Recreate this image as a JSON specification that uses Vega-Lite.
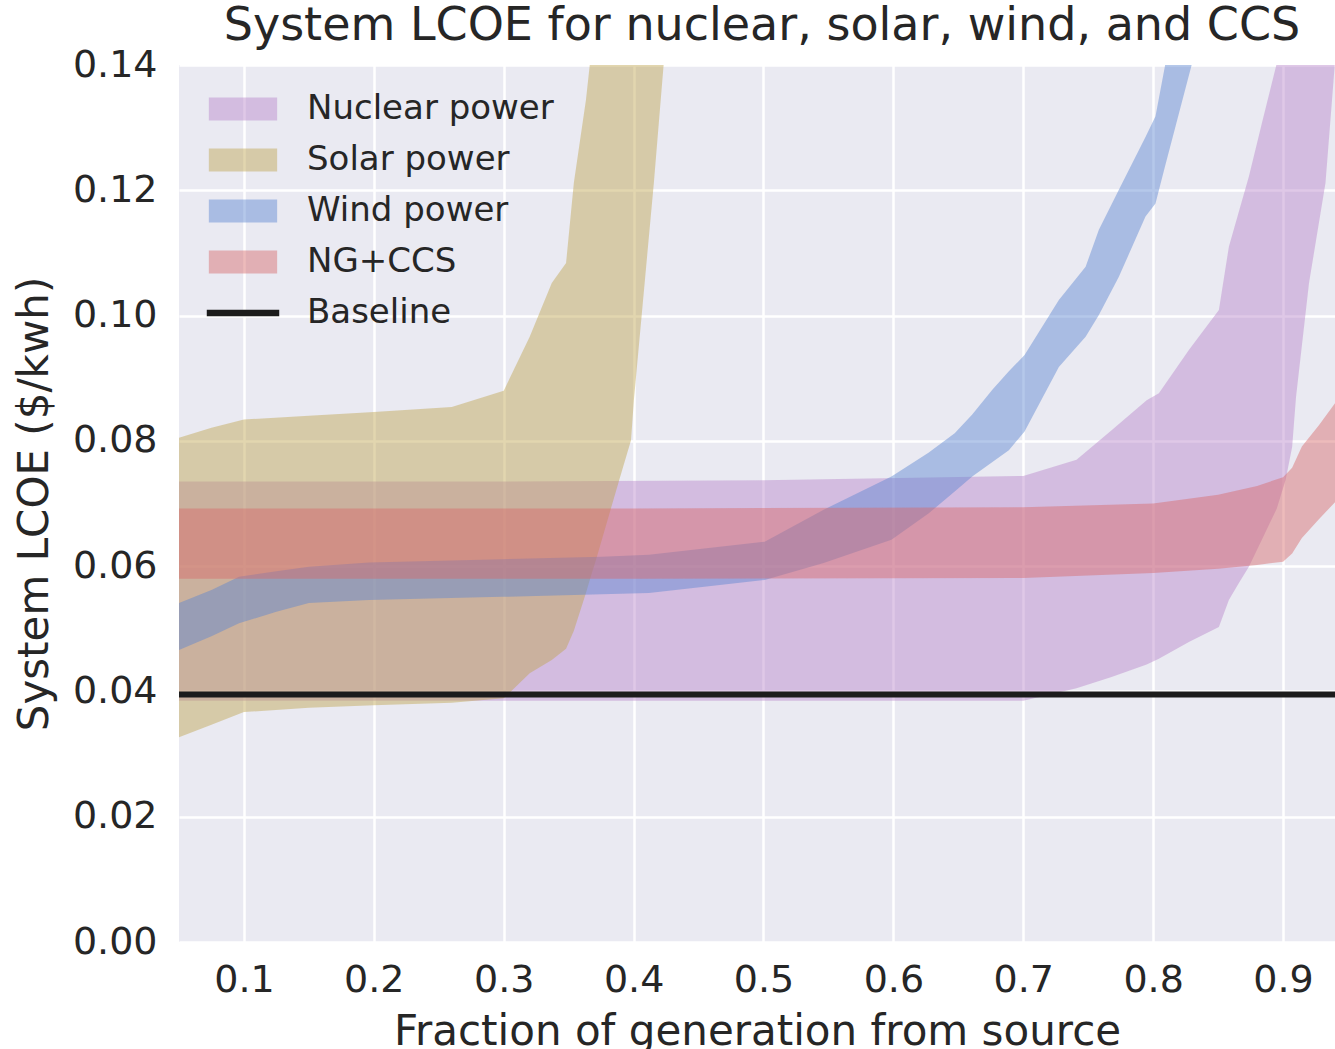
{
  "$schema": "https://vega.github.io/schema/vega-lite/v6.json",
  "width": 1156,
  "height": 877,
  "autosize": {"type": "none"},
  "padding": {"left": 179, "top": 65, "right": 0, "bottom": 107},
  "background": "white",
  "title": {
    "text": "System LCOE for nuclear, solar, wind, and CCS",
    "font": "DejaVu Sans",
    "fontSize": 46,
    "fontWeight": "normal",
    "color": "#262626",
    "anchor": "middle",
    "baseline": "alphabetic",
    "offset": -40,
    "dx": 5
  },
  "config": {
    "view": {"fill": "#EAEAF2", "stroke": null},
    "axis": {
      "domain": false,
      "ticks": false,
      "grid": true,
      "gridColor": "#ffffff",
      "gridWidth": 2.5,
      "gridOpacity": 1,
      "labelFont": "DejaVu Sans",
      "labelFontSize": 38,
      "labelColor": "#262626",
      "titleFont": "DejaVu Sans",
      "titleFontSize": 42,
      "titleFontWeight": "normal",
      "titleColor": "#262626"
    }
  },
  "datasets": {
    "nuclear": [
      {"series": "Nuclear power", "x": 0.05, "lo": 0.0385, "hi": 0.0735},
      {"series": "Nuclear power", "x": 0.30, "lo": 0.0385, "hi": 0.0735},
      {"series": "Nuclear power", "x": 0.50, "lo": 0.0385, "hi": 0.0737},
      {"series": "Nuclear power", "x": 0.70, "lo": 0.0385, "hi": 0.0744},
      {"series": "Nuclear power", "x": 0.741, "lo": 0.0405, "hi": 0.0770},
      {"series": "Nuclear power", "x": 0.768, "lo": 0.0423, "hi": 0.0817},
      {"series": "Nuclear power", "x": 0.795, "lo": 0.0443, "hi": 0.0865},
      {"series": "Nuclear power", "x": 0.8044, "lo": 0.0452, "hi": 0.0876},
      {"series": "Nuclear power", "x": 0.8275, "lo": 0.0479, "hi": 0.0945},
      {"series": "Nuclear power", "x": 0.8506, "lo": 0.0503, "hi": 0.1009},
      {"series": "Nuclear power", "x": 0.8583, "lo": 0.0546, "hi": 0.1110},
      {"series": "Nuclear power", "x": 0.866, "lo": 0.0573, "hi": 0.1166},
      {"series": "Nuclear power", "x": 0.8737, "lo": 0.0599, "hi": 0.1222},
      {"series": "Nuclear power", "x": 0.8837, "lo": 0.0642, "hi": 0.1307},
      {"series": "Nuclear power", "x": 0.8952, "lo": 0.0692, "hi": 0.1403},
      {"series": "Nuclear power", "x": 0.902, "lo": 0.0738, "hi": 0.16},
      {"series": "Nuclear power", "x": 0.907, "lo": 0.079, "hi": 0.17},
      {"series": "Nuclear power", "x": 0.910, "lo": 0.087, "hi": 0.18},
      {"series": "Nuclear power", "x": 0.920, "lo": 0.1052, "hi": 0.2},
      {"series": "Nuclear power", "x": 0.9327, "lo": 0.1212, "hi": 0.2},
      {"series": "Nuclear power", "x": 0.94, "lo": 0.1405, "hi": 0.2}
    ],
    "solar": [
      {"series": "Solar power", "x": 0.05, "lo": 0.0327, "hi": 0.0805},
      {"series": "Solar power", "x": 0.075, "lo": 0.0347, "hi": 0.0821},
      {"series": "Solar power", "x": 0.10, "lo": 0.0367, "hi": 0.0834},
      {"series": "Solar power", "x": 0.15, "lo": 0.0374, "hi": 0.0840},
      {"series": "Solar power", "x": 0.20, "lo": 0.0378, "hi": 0.0846},
      {"series": "Solar power", "x": 0.26, "lo": 0.0382, "hi": 0.0854},
      {"series": "Solar power", "x": 0.30, "lo": 0.0389, "hi": 0.0880},
      {"series": "Solar power", "x": 0.32, "lo": 0.0429, "hi": 0.0966},
      {"series": "Solar power", "x": 0.337, "lo": 0.0450, "hi": 0.1052},
      {"series": "Solar power", "x": 0.348, "lo": 0.0468, "hi": 0.1084},
      {"series": "Solar power", "x": 0.354, "lo": 0.0497, "hi": 0.1212},
      {"series": "Solar power", "x": 0.3633, "lo": 0.0557, "hi": 0.1344},
      {"series": "Solar power", "x": 0.3665, "lo": 0.0580, "hi": 0.1405},
      {"series": "Solar power", "x": 0.371, "lo": 0.0610, "hi": 0.16},
      {"series": "Solar power", "x": 0.389, "lo": 0.0738, "hi": 0.2},
      {"series": "Solar power", "x": 0.398, "lo": 0.0801, "hi": 0.2},
      {"series": "Solar power", "x": 0.4002, "lo": 0.0865, "hi": 0.2},
      {"series": "Solar power", "x": 0.4156, "lo": 0.1212, "hi": 0.2},
      {"series": "Solar power", "x": 0.4233, "lo": 0.1405, "hi": 0.2},
      {"series": "Solar power", "x": 0.43, "lo": 0.16, "hi": 0.2}
    ],
    "wind": [
      {"series": "Wind power", "x": 0.05, "lo": 0.0466, "hi": 0.0541},
      {"series": "Wind power", "x": 0.075, "lo": 0.0488, "hi": 0.0562},
      {"series": "Wind power", "x": 0.0962, "lo": 0.0509, "hi": 0.0583},
      {"series": "Wind power", "x": 0.125, "lo": 0.0527, "hi": 0.0592},
      {"series": "Wind power", "x": 0.150, "lo": 0.0541, "hi": 0.0599},
      {"series": "Wind power", "x": 0.1962, "lo": 0.0546, "hi": 0.0606},
      {"series": "Wind power", "x": 0.2986, "lo": 0.0551, "hi": 0.0611},
      {"series": "Wind power", "x": 0.3756, "lo": 0.0555, "hi": 0.0615},
      {"series": "Wind power", "x": 0.4118, "lo": 0.0557, "hi": 0.0618},
      {"series": "Wind power", "x": 0.5009, "lo": 0.0578, "hi": 0.0639},
      {"series": "Wind power", "x": 0.5463, "lo": 0.0605, "hi": 0.0690},
      {"series": "Wind power", "x": 0.5985, "lo": 0.0642, "hi": 0.0743},
      {"series": "Wind power", "x": 0.627, "lo": 0.0684, "hi": 0.0781},
      {"series": "Wind power", "x": 0.6472, "lo": 0.0719, "hi": 0.0812},
      {"series": "Wind power", "x": 0.6607, "lo": 0.0743, "hi": 0.0842},
      {"series": "Wind power", "x": 0.676, "lo": 0.0766, "hi": 0.0881},
      {"series": "Wind power", "x": 0.6889, "lo": 0.0785, "hi": 0.0911},
      {"series": "Wind power", "x": 0.701, "lo": 0.0815, "hi": 0.0937},
      {"series": "Wind power", "x": 0.7274, "lo": 0.0918, "hi": 0.1025},
      {"series": "Wind power", "x": 0.748, "lo": 0.0966, "hi": 0.1078},
      {"series": "Wind power", "x": 0.7582, "lo": 0.1001, "hi": 0.1137},
      {"series": "Wind power", "x": 0.7736, "lo": 0.1062, "hi": 0.1201},
      {"series": "Wind power", "x": 0.7941, "lo": 0.1158, "hi": 0.1285},
      {"series": "Wind power", "x": 0.8018, "lo": 0.1179, "hi": 0.1318},
      {"series": "Wind power", "x": 0.8095, "lo": 0.1241, "hi": 0.1403},
      {"series": "Wind power", "x": 0.8172, "lo": 0.1302, "hi": 0.16},
      {"series": "Wind power", "x": 0.830, "lo": 0.1403, "hi": 0.18},
      {"series": "Wind power", "x": 0.84, "lo": 0.16, "hi": 0.2}
    ],
    "ngccs": [
      {"series": "NG+CCS", "x": 0.05, "lo": 0.0580, "hi": 0.0692},
      {"series": "NG+CCS", "x": 0.40, "lo": 0.0580, "hi": 0.0692},
      {"series": "NG+CCS", "x": 0.70, "lo": 0.0581, "hi": 0.0694},
      {"series": "NG+CCS", "x": 0.80, "lo": 0.0589, "hi": 0.0700},
      {"series": "NG+CCS", "x": 0.85, "lo": 0.0596, "hi": 0.0714},
      {"series": "NG+CCS", "x": 0.88, "lo": 0.0602, "hi": 0.0728},
      {"series": "NG+CCS", "x": 0.90, "lo": 0.0607, "hi": 0.0742},
      {"series": "NG+CCS", "x": 0.907, "lo": 0.0620, "hi": 0.0757},
      {"series": "NG+CCS", "x": 0.9145, "lo": 0.0645, "hi": 0.0791},
      {"series": "NG+CCS", "x": 0.9276, "lo": 0.0675, "hi": 0.0825},
      {"series": "NG+CCS", "x": 0.94, "lo": 0.0702, "hi": 0.0860}
    ],
    "baseline": [
      {"series": "Baseline", "y": 0.0395}
    ]
  },
  "encoding": {
    "x": {
      "field": "x",
      "type": "quantitative",
      "scale": {"domain": [0.05, 0.94], "nice": false, "zero": false},
      "axis": {
        "title": "Fraction of generation from source",
        "values": [0.1, 0.2, 0.3, 0.4, 0.5, 0.6, 0.7, 0.8, 0.9],
        "format": ".1f",
        "labelPadding": 19,
        "titlePadding": 12
      }
    },
    "color": {
      "field": "series",
      "type": "nominal",
      "scale": {
        "domain": ["Nuclear power", "Solar power", "Wind power", "NG+CCS", "Baseline"],
        "range": ["#b986ca", "#bea54e", "#5a86d1", "#d86968", "#1c1c1c"]
      },
      "legend": {
        "title": null,
        "orient": "none",
        "legendX": 47,
        "legendY": 27,
        "padding": 0,
        "labelFont": "DejaVu Sans",
        "labelFontSize": 34,
        "labelColor": "#262626",
        "labelLimit": 500,
        "labelOffset": 47,
        "rowPadding": 17,
        "symbolSize": 529,
        "symbolStrokeWidth": 0,
        "encode": {
          "symbols": {
            "update": {
              "shape": {"signal": "datum.value === 'Baseline' ? 'M-3.15,-0.29H3.15V0.29H-3.15Z' : 'M-2.97,-1H2.97V1H-2.97Z'"},
              "fill": {"signal": "scale('color', datum.value)"},
              "fillOpacity": {"signal": "datum.value === 'Baseline' ? 1 : 0.45"},
              "opacity": {"value": 1},
              "strokeWidth": {"value": 0},
              "size": {"value": 529}
            }
          }
        }
      }
    }
  },
  "layer": [
    {
      "data": {"name": "nuclear"},
      "mark": {"type": "area", "opacity": 0.45, "clip": true},
      "encoding": {
        "y": {
          "field": "hi",
          "type": "quantitative",
          "scale": {"domain": [0, 0.14], "nice": false, "zero": false},
          "axis": {
            "title": "System LCOE ($/kwh)",
            "values": [0, 0.02, 0.04, 0.06, 0.08, 0.1, 0.12, 0.14],
            "format": ".2f",
            "labelPadding": 22,
            "titlePadding": 16
          }
        },
        "y2": {"field": "lo"}
      }
    },
    {
      "data": {"name": "solar"},
      "mark": {"type": "area", "opacity": 0.45, "clip": true},
      "encoding": {
        "y": {"field": "hi", "type": "quantitative"},
        "y2": {"field": "lo"}
      }
    },
    {
      "data": {"name": "wind"},
      "mark": {"type": "area", "opacity": 0.45, "clip": true},
      "encoding": {
        "y": {"field": "hi", "type": "quantitative"},
        "y2": {"field": "lo"}
      }
    },
    {
      "data": {"name": "ngccs"},
      "mark": {"type": "area", "opacity": 0.45, "clip": true},
      "encoding": {
        "y": {"field": "hi", "type": "quantitative"},
        "y2": {"field": "lo"}
      }
    },
    {
      "data": {"name": "baseline"},
      "mark": {"type": "rule", "strokeWidth": 6, "clip": true},
      "encoding": {
        "x": null,
        "y": {"field": "y", "type": "quantitative"}
      }
    }
  ]
}
